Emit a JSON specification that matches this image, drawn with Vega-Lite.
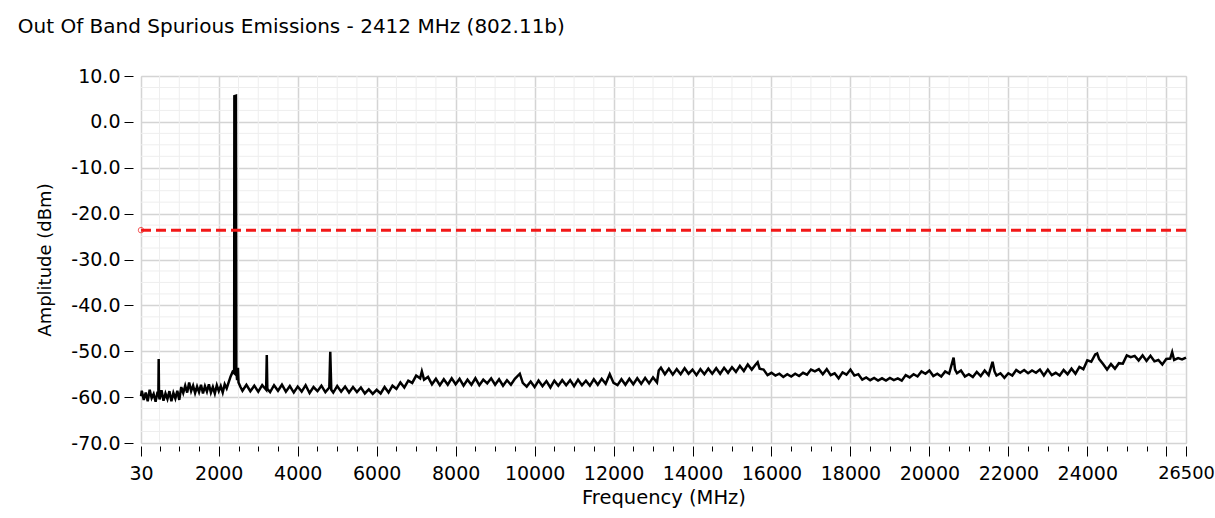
{
  "$schema": "https://vega.github.io/schema/vega-lite/v6.json",
  "width": 1045,
  "height": 367,
  "autosize": {"type": "none"},
  "padding": {"left": 141, "top": 76, "right": 29, "bottom": 75},
  "background": "white",
  "title": {"text": "Out Of Band Spurious Emissions - 2412 MHz (802.11b)", "anchor": "start", "dx": -19, "offset": 30, "font": "DejaVu Sans", "fontSize": 20, "fontWeight": "normal", "color": "#000000"},
  "config": {
    "view": {"stroke": "#d6d6d6", "strokeWidth": 1},
    "axis": {"labelFont": "DejaVu Sans", "labelFontSize": 19, "labelColor": "#000000", "titleFont": "DejaVu Sans", "titleFontSize": 18, "titleFontWeight": "normal", "titleColor": "#000000", "tickColor": "#000000", "domain": false}
  },
  "datasets": {
    "trace": [
      {"Frequency": 30, "Amplitude": -59.8}, {"Frequency": 50, "Amplitude": -58.6}, {"Frequency": 100, "Amplitude": -60.6}, {"Frequency": 150, "Amplitude": -59.0}, {"Frequency": 200, "Amplitude": -60.9}, {"Frequency": 250, "Amplitude": -58.4}, {"Frequency": 300, "Amplitude": -60.2}, {"Frequency": 350, "Amplitude": -59.3}, {"Frequency": 400, "Amplitude": -61.0}, {"Frequency": 450, "Amplitude": -58.8}, {"Frequency": 470, "Amplitude": -59.5}, {"Frequency": 478, "Amplitude": -51.7}, {"Frequency": 486, "Amplitude": -59.6}, {"Frequency": 500, "Amplitude": -60.5}, {"Frequency": 550, "Amplitude": -58.5}, {"Frequency": 600, "Amplitude": -60.8}, {"Frequency": 650, "Amplitude": -59.2}, {"Frequency": 700, "Amplitude": -60.4}, {"Frequency": 750, "Amplitude": -58.7}, {"Frequency": 800, "Amplitude": -60.9}, {"Frequency": 850, "Amplitude": -59.1}, {"Frequency": 900, "Amplitude": -60.3}, {"Frequency": 950, "Amplitude": -58.6}, {"Frequency": 1000, "Amplitude": -60.6},
      {"Frequency": 1050, "Amplitude": -57.8}, {"Frequency": 1100, "Amplitude": -59.1}, {"Frequency": 1150, "Amplitude": -57.5}, {"Frequency": 1200, "Amplitude": -59.0}, {"Frequency": 1250, "Amplitude": -56.8}, {"Frequency": 1300, "Amplitude": -58.7}, {"Frequency": 1350, "Amplitude": -57.5}, {"Frequency": 1400, "Amplitude": -59.1}, {"Frequency": 1450, "Amplitude": -57.7}, {"Frequency": 1500, "Amplitude": -58.9}, {"Frequency": 1550, "Amplitude": -57.3}, {"Frequency": 1600, "Amplitude": -59.2}, {"Frequency": 1650, "Amplitude": -57.6}, {"Frequency": 1700, "Amplitude": -58.8}, {"Frequency": 1750, "Amplitude": -57.2}, {"Frequency": 1800, "Amplitude": -59.0}, {"Frequency": 1850, "Amplitude": -57.8}, {"Frequency": 1900, "Amplitude": -59.2}, {"Frequency": 1950, "Amplitude": -57.4}, {"Frequency": 2000, "Amplitude": -58.7}, {"Frequency": 2050, "Amplitude": -57.6}, {"Frequency": 2100, "Amplitude": -59.0}, {"Frequency": 2150, "Amplitude": -57.2}, {"Frequency": 2200, "Amplitude": -58.1}, {"Frequency": 2250, "Amplitude": -56.8}, {"Frequency": 2300, "Amplitude": -55.5}, {"Frequency": 2350, "Amplitude": -54.5}, {"Frequency": 2390, "Amplitude": -54.8},
      {"Frequency": 2395, "Amplitude": 5.6}, {"Frequency": 2435, "Amplitude": 5.7}, {"Frequency": 2445, "Amplitude": -54.5}, {"Frequency": 2465, "Amplitude": -56.3}, {"Frequency": 2486, "Amplitude": -53.6}, {"Frequency": 2500, "Amplitude": -56.8}, {"Frequency": 2550, "Amplitude": -57.8},
      {"Frequency": 2600, "Amplitude": -58.6}, {"Frequency": 2700, "Amplitude": -57.3}, {"Frequency": 2800, "Amplitude": -58.7}, {"Frequency": 2900, "Amplitude": -57.5}, {"Frequency": 3000, "Amplitude": -58.8}, {"Frequency": 3100, "Amplitude": -57.4}, {"Frequency": 3200, "Amplitude": -58.4}, {"Frequency": 3216, "Amplitude": -50.8}, {"Frequency": 3230, "Amplitude": -58.2}, {"Frequency": 3300, "Amplitude": -58.9}, {"Frequency": 3400, "Amplitude": -57.4}, {"Frequency": 3500, "Amplitude": -58.6}, {"Frequency": 3600, "Amplitude": -57.3}, {"Frequency": 3700, "Amplitude": -58.8}, {"Frequency": 3800, "Amplitude": -57.6}, {"Frequency": 3900, "Amplitude": -59.0}, {"Frequency": 4000, "Amplitude": -57.7}, {"Frequency": 4100, "Amplitude": -58.8}, {"Frequency": 4200, "Amplitude": -57.4}, {"Frequency": 4300, "Amplitude": -59.1}, {"Frequency": 4400, "Amplitude": -57.8}, {"Frequency": 4500, "Amplitude": -58.7}, {"Frequency": 4600, "Amplitude": -57.5}, {"Frequency": 4700, "Amplitude": -58.9}, {"Frequency": 4800, "Amplitude": -57.9}, {"Frequency": 4824, "Amplitude": -50.1}, {"Frequency": 4850, "Amplitude": -58.4}, {"Frequency": 4900, "Amplitude": -59.0}, {"Frequency": 5000, "Amplitude": -57.6}, {"Frequency": 5100, "Amplitude": -58.8}, {"Frequency": 5200, "Amplitude": -57.7}, {"Frequency": 5300, "Amplitude": -59.0}, {"Frequency": 5400, "Amplitude": -57.8}, {"Frequency": 5500, "Amplitude": -58.9}, {"Frequency": 5600, "Amplitude": -57.9}, {"Frequency": 5700, "Amplitude": -59.2}, {"Frequency": 5800, "Amplitude": -58.3}, {"Frequency": 5900, "Amplitude": -59.3}, {"Frequency": 6000, "Amplitude": -58.4},
      {"Frequency": 6100, "Amplitude": -59.2}, {"Frequency": 6200, "Amplitude": -57.8}, {"Frequency": 6300, "Amplitude": -59.0}, {"Frequency": 6400, "Amplitude": -57.5}, {"Frequency": 6500, "Amplitude": -58.2}, {"Frequency": 6600, "Amplitude": -56.8}, {"Frequency": 6700, "Amplitude": -57.9}, {"Frequency": 6800, "Amplitude": -56.4}, {"Frequency": 6900, "Amplitude": -56.9}, {"Frequency": 7000, "Amplitude": -55.3}, {"Frequency": 7100, "Amplitude": -55.9}, {"Frequency": 7144, "Amplitude": -54.4}, {"Frequency": 7200, "Amplitude": -56.2}, {"Frequency": 7300, "Amplitude": -55.6}, {"Frequency": 7400, "Amplitude": -57.2}, {"Frequency": 7500, "Amplitude": -56.0}, {"Frequency": 7600, "Amplitude": -57.4}, {"Frequency": 7700, "Amplitude": -56.1}, {"Frequency": 7800, "Amplitude": -57.3}, {"Frequency": 7900, "Amplitude": -55.9}, {"Frequency": 8000, "Amplitude": -57.2}, {"Frequency": 8100, "Amplitude": -56.0}, {"Frequency": 8200, "Amplitude": -57.5}, {"Frequency": 8300, "Amplitude": -56.2}, {"Frequency": 8400, "Amplitude": -57.3}, {"Frequency": 8500, "Amplitude": -55.9}, {"Frequency": 8600, "Amplitude": -57.4}, {"Frequency": 8700, "Amplitude": -56.2}, {"Frequency": 8800, "Amplitude": -57.0}, {"Frequency": 8900, "Amplitude": -55.9}, {"Frequency": 9000, "Amplitude": -57.3}, {"Frequency": 9100, "Amplitude": -56.1}, {"Frequency": 9200, "Amplitude": -57.5}, {"Frequency": 9300, "Amplitude": -56.3}, {"Frequency": 9400, "Amplitude": -57.3}, {"Frequency": 9500, "Amplitude": -56.0}, {"Frequency": 9625, "Amplitude": -54.9}, {"Frequency": 9700, "Amplitude": -56.9}, {"Frequency": 9800, "Amplitude": -57.7}, {"Frequency": 9900, "Amplitude": -56.6}, {"Frequency": 10000, "Amplitude": -57.8}, {"Frequency": 10100, "Amplitude": -56.4}, {"Frequency": 10200, "Amplitude": -57.6}, {"Frequency": 10300, "Amplitude": -56.5}, {"Frequency": 10400, "Amplitude": -57.9}, {"Frequency": 10500, "Amplitude": -56.4}, {"Frequency": 10600, "Amplitude": -57.5}, {"Frequency": 10700, "Amplitude": -56.3}, {"Frequency": 10800, "Amplitude": -57.4}, {"Frequency": 10900, "Amplitude": -56.3}, {"Frequency": 11000, "Amplitude": -57.6}, {"Frequency": 11100, "Amplitude": -56.2}, {"Frequency": 11200, "Amplitude": -57.4}, {"Frequency": 11300, "Amplitude": -56.4}, {"Frequency": 11400, "Amplitude": -57.5}, {"Frequency": 11500, "Amplitude": -56.1}, {"Frequency": 11600, "Amplitude": -57.3}, {"Frequency": 11700, "Amplitude": -56.0}, {"Frequency": 11800, "Amplitude": -57.1}, {"Frequency": 11903, "Amplitude": -55.0}, {"Frequency": 12000, "Amplitude": -56.9}, {"Frequency": 12100, "Amplitude": -57.4}, {"Frequency": 12200, "Amplitude": -56.1}, {"Frequency": 12300, "Amplitude": -57.3}, {"Frequency": 12400, "Amplitude": -56.0}, {"Frequency": 12500, "Amplitude": -57.2}, {"Frequency": 12600, "Amplitude": -55.9}, {"Frequency": 12700, "Amplitude": -57.1}, {"Frequency": 12800, "Amplitude": -55.8}, {"Frequency": 12900, "Amplitude": -57.0}, {"Frequency": 13000, "Amplitude": -55.7}, {"Frequency": 13100, "Amplitude": -56.8}, {"Frequency": 13144, "Amplitude": -54.2},
      {"Frequency": 13200, "Amplitude": -53.6}, {"Frequency": 13300, "Amplitude": -55.0}, {"Frequency": 13400, "Amplitude": -53.8}, {"Frequency": 13500, "Amplitude": -55.1}, {"Frequency": 13600, "Amplitude": -53.9}, {"Frequency": 13700, "Amplitude": -55.0}, {"Frequency": 13800, "Amplitude": -53.7}, {"Frequency": 13900, "Amplitude": -54.9}, {"Frequency": 14000, "Amplitude": -54.0}, {"Frequency": 14100, "Amplitude": -55.2}, {"Frequency": 14200, "Amplitude": -53.9}, {"Frequency": 14300, "Amplitude": -55.0}, {"Frequency": 14400, "Amplitude": -53.8}, {"Frequency": 14500, "Amplitude": -54.9}, {"Frequency": 14600, "Amplitude": -53.7}, {"Frequency": 14700, "Amplitude": -54.9}, {"Frequency": 14800, "Amplitude": -53.6}, {"Frequency": 14900, "Amplitude": -54.7}, {"Frequency": 15000, "Amplitude": -53.5}, {"Frequency": 15100, "Amplitude": -54.5}, {"Frequency": 15200, "Amplitude": -53.2}, {"Frequency": 15300, "Amplitude": -54.3}, {"Frequency": 15400, "Amplitude": -52.9}, {"Frequency": 15500, "Amplitude": -54.0}, {"Frequency": 15600, "Amplitude": -52.9}, {"Frequency": 15650, "Amplitude": -52.4}, {"Frequency": 15700, "Amplitude": -53.8}, {"Frequency": 15800, "Amplitude": -54.0}, {"Frequency": 15900, "Amplitude": -55.2}, {"Frequency": 16000, "Amplitude": -54.7}, {"Frequency": 16100, "Amplitude": -55.3}, {"Frequency": 16200, "Amplitude": -54.9}, {"Frequency": 16300, "Amplitude": -55.6}, {"Frequency": 16400, "Amplitude": -55.0}, {"Frequency": 16500, "Amplitude": -55.5}, {"Frequency": 16600, "Amplitude": -54.9}, {"Frequency": 16700, "Amplitude": -55.4}, {"Frequency": 16800, "Amplitude": -54.7}, {"Frequency": 16900, "Amplitude": -55.1}, {"Frequency": 17000, "Amplitude": -54.0}, {"Frequency": 17100, "Amplitude": -54.4}, {"Frequency": 17200, "Amplitude": -53.9}, {"Frequency": 17300, "Amplitude": -55.0}, {"Frequency": 17400, "Amplitude": -53.9}, {"Frequency": 17500, "Amplitude": -55.2}, {"Frequency": 17600, "Amplitude": -54.8}, {"Frequency": 17700, "Amplitude": -55.9}, {"Frequency": 17800, "Amplitude": -54.6}, {"Frequency": 17900, "Amplitude": -55.1}, {"Frequency": 18000, "Amplitude": -54.0}, {"Frequency": 18100, "Amplitude": -55.3}, {"Frequency": 18200, "Amplitude": -55.0}, {"Frequency": 18300, "Amplitude": -56.2}, {"Frequency": 18400, "Amplitude": -55.7}, {"Frequency": 18500, "Amplitude": -56.3}, {"Frequency": 18600, "Amplitude": -55.8}, {"Frequency": 18700, "Amplitude": -56.4}, {"Frequency": 18800, "Amplitude": -55.9}, {"Frequency": 18900, "Amplitude": -56.4}, {"Frequency": 19000, "Amplitude": -55.8}, {"Frequency": 19100, "Amplitude": -56.3}, {"Frequency": 19200, "Amplitude": -55.9}, {"Frequency": 19300, "Amplitude": -56.4}, {"Frequency": 19400, "Amplitude": -55.2}, {"Frequency": 19500, "Amplitude": -55.7}, {"Frequency": 19600, "Amplitude": -55.0}, {"Frequency": 19700, "Amplitude": -55.5}, {"Frequency": 19800, "Amplitude": -54.4}, {"Frequency": 19900, "Amplitude": -54.9}, {"Frequency": 20000, "Amplitude": -54.2},
      {"Frequency": 20100, "Amplitude": -55.4}, {"Frequency": 20200, "Amplitude": -54.9}, {"Frequency": 20300, "Amplitude": -55.5}, {"Frequency": 20400, "Amplitude": -54.4}, {"Frequency": 20500, "Amplitude": -54.9}, {"Frequency": 20613, "Amplitude": -51.4}, {"Frequency": 20650, "Amplitude": -54.0}, {"Frequency": 20700, "Amplitude": -54.8}, {"Frequency": 20800, "Amplitude": -54.2}, {"Frequency": 20900, "Amplitude": -55.5}, {"Frequency": 21000, "Amplitude": -55.0}, {"Frequency": 21100, "Amplitude": -55.6}, {"Frequency": 21200, "Amplitude": -54.5}, {"Frequency": 21300, "Amplitude": -55.4}, {"Frequency": 21400, "Amplitude": -54.2}, {"Frequency": 21500, "Amplitude": -55.2}, {"Frequency": 21600, "Amplitude": -52.3}, {"Frequency": 21650, "Amplitude": -54.4}, {"Frequency": 21700, "Amplitude": -55.3}, {"Frequency": 21800, "Amplitude": -54.8}, {"Frequency": 21900, "Amplitude": -55.8}, {"Frequency": 22000, "Amplitude": -54.8}, {"Frequency": 22100, "Amplitude": -55.3}, {"Frequency": 22200, "Amplitude": -54.1}, {"Frequency": 22300, "Amplitude": -54.7}, {"Frequency": 22400, "Amplitude": -54.1}, {"Frequency": 22500, "Amplitude": -54.8}, {"Frequency": 22600, "Amplitude": -54.2}, {"Frequency": 22700, "Amplitude": -54.7}, {"Frequency": 22800, "Amplitude": -54.0}, {"Frequency": 22900, "Amplitude": -55.3}, {"Frequency": 23000, "Amplitude": -54.0}, {"Frequency": 23100, "Amplitude": -55.2}, {"Frequency": 23200, "Amplitude": -54.7}, {"Frequency": 23300, "Amplitude": -55.3}, {"Frequency": 23400, "Amplitude": -54.1}, {"Frequency": 23500, "Amplitude": -55.0}, {"Frequency": 23600, "Amplitude": -53.8}, {"Frequency": 23700, "Amplitude": -54.9}, {"Frequency": 23800, "Amplitude": -53.4}, {"Frequency": 23900, "Amplitude": -53.9}, {"Frequency": 24000, "Amplitude": -52.0}, {"Frequency": 24100, "Amplitude": -52.3}, {"Frequency": 24200, "Amplitude": -50.7}, {"Frequency": 24250, "Amplitude": -50.5}, {"Frequency": 24300, "Amplitude": -51.7}, {"Frequency": 24400, "Amplitude": -52.8}, {"Frequency": 24500, "Amplitude": -54.0}, {"Frequency": 24600, "Amplitude": -52.8}, {"Frequency": 24700, "Amplitude": -53.8}, {"Frequency": 24800, "Amplitude": -52.6}, {"Frequency": 24900, "Amplitude": -52.7}, {"Frequency": 25000, "Amplitude": -50.9}, {"Frequency": 25100, "Amplitude": -51.3}, {"Frequency": 25200, "Amplitude": -51.0}, {"Frequency": 25300, "Amplitude": -52.0}, {"Frequency": 25400, "Amplitude": -50.9}, {"Frequency": 25500, "Amplitude": -52.1}, {"Frequency": 25600, "Amplitude": -51.0}, {"Frequency": 25700, "Amplitude": -52.2}, {"Frequency": 25800, "Amplitude": -51.9}, {"Frequency": 25900, "Amplitude": -52.9}, {"Frequency": 26000, "Amplitude": -51.7}, {"Frequency": 26100, "Amplitude": -51.6}, {"Frequency": 26150, "Amplitude": -50.2}, {"Frequency": 26200, "Amplitude": -51.9}, {"Frequency": 26300, "Amplitude": -51.5}, {"Frequency": 26400, "Amplitude": -51.8}, {"Frequency": 26500, "Amplitude": -51.4}
    ],
    "limit": [{"Frequency": 30, "Amplitude": -23.6}, {"Frequency": 26500, "Amplitude": -23.6}],
    "minorX": [
      {"Frequency": 500}, {"Frequency": 1000}, {"Frequency": 1500}, {"Frequency": 2500}, {"Frequency": 3000}, {"Frequency": 3500}, {"Frequency": 4500}, {"Frequency": 5000}, {"Frequency": 5500}, {"Frequency": 6500}, {"Frequency": 7000}, {"Frequency": 7500}, {"Frequency": 8500}, {"Frequency": 9000}, {"Frequency": 9500}, {"Frequency": 10500}, {"Frequency": 11000}, {"Frequency": 11500}, {"Frequency": 12500}, {"Frequency": 13000}, {"Frequency": 13500}, {"Frequency": 14500}, {"Frequency": 15000}, {"Frequency": 15500}, {"Frequency": 16500}, {"Frequency": 17000}, {"Frequency": 17500}, {"Frequency": 18500}, {"Frequency": 19000}, {"Frequency": 19500}, {"Frequency": 20500}, {"Frequency": 21000}, {"Frequency": 21500}, {"Frequency": 22500}, {"Frequency": 23000}, {"Frequency": 23500}, {"Frequency": 24500}, {"Frequency": 25000}, {"Frequency": 25500}
    ],
    "minorY": [
      {"Amplitude": 7.5}, {"Amplitude": 5}, {"Amplitude": 2.5}, {"Amplitude": -2.5}, {"Amplitude": -5}, {"Amplitude": -7.5}, {"Amplitude": -12.5}, {"Amplitude": -15}, {"Amplitude": -17.5}, {"Amplitude": -22.5}, {"Amplitude": -25}, {"Amplitude": -27.5}, {"Amplitude": -32.5}, {"Amplitude": -35}, {"Amplitude": -37.5}, {"Amplitude": -42.5}, {"Amplitude": -45}, {"Amplitude": -47.5}, {"Amplitude": -52.5}, {"Amplitude": -55}, {"Amplitude": -57.5}, {"Amplitude": -62.5}, {"Amplitude": -65}, {"Amplitude": -67.5}
    ]
  },
  "resolve": {"axis": {"x": "independent"}},
  "layer": [
    {
      "data": {"name": "minorY"},
      "mark": {"type": "rule", "color": "#eeeeee", "strokeWidth": 1},
      "encoding": {"y": {"field": "Amplitude", "type": "quantitative", "scale": {"domain": [-70, 10], "nice": false, "zero": false}}}
    },
    {
      "data": {"name": "minorX"},
      "mark": {"type": "rule", "color": "#eeeeee", "strokeWidth": 1},
      "encoding": {
        "x": {"field": "Frequency", "type": "quantitative", "scale": {"domain": [30, 26500], "nice": false, "zero": false},
          "axis": {"orient": "bottom", "values": [500, 1000, 1500, 2500, 3000, 3500, 4500, 5000, 5500, 6500, 7000, 7500, 8500, 9000, 9500, 10500, 11000, 11500, 12500, 13000, 13500, 14500, 15000, 15500, 16500, 17000, 17500, 18500, 19000, 19500, 20500, 21000, 21500, 22500, 23000, 23500, 24500, 25000, 25500], "labels": false, "grid": false, "ticks": true, "tickSize": 5, "offset": 3, "title": null, "domain": false}}
      }
    },
    {
      "data": {"name": "trace"},
      "mark": {"type": "line", "color": "#000000", "strokeWidth": 2.5},
      "encoding": {
        "x": {"field": "Frequency", "type": "quantitative", "scale": {"domain": [30, 26500], "nice": false, "zero": false},
          "axis": {"orient": "bottom", "title": "Frequency (MHz)", "titleFontSize": 19.5, "values": [30, 2000, 4000, 6000, 8000, 10000, 12000, 14000, 16000, 18000, 20000, 22000, 24000, 26000, 26500], "labelExpr": "datum.value == 26000 ? '' : datum.label", "labelFontSize": {"condition": {"test": "datum.value == 26500", "value": 17.8}, "value": 19}, "format": "d", "labelOverlap": false, "labelBound": false, "labelFlush": false, "grid": true, "gridColor": "#d4d4d4", "gridWidth": 1.5, "tickSize": 10, "offset": 3, "labelPadding": 8, "titlePadding": 5}},
        "y": {"field": "Amplitude", "type": "quantitative", "scale": {"domain": [-70, 10], "nice": false, "zero": false},
          "axis": {"title": "Amplitude (dBm)", "values": [-70, -60, -50, -40, -30, -20, -10, 0, 10], "labelExpr": "replace(format(datum.value, '.1f'), '\u2212', '-')", "grid": true, "gridColor": "#d4d4d4", "gridWidth": 1.5, "tickSize": 9, "offset": 8, "labelPadding": 4, "titlePadding": 16}}
      }
    },
    {
      "data": {"name": "limit"},
      "mark": {"type": "line", "color": "#f21818", "strokeWidth": 3, "strokeDash": [10, 5]},
      "encoding": {
        "x": {"field": "Frequency", "type": "quantitative", "axis": null},
        "y": {"field": "Amplitude", "type": "quantitative"}
      }
    },
    {
      "data": {"name": "limit"},
      "transform": [{"filter": "datum.Frequency == 30"}],
      "mark": {"type": "point", "shape": "circle", "filled": false, "color": "#f21818", "size": 30, "strokeWidth": 1},
      "encoding": {
        "x": {"field": "Frequency", "type": "quantitative", "axis": null},
        "y": {"field": "Amplitude", "type": "quantitative"}
      }
    },
    {
      "mark": {"type": "rule", "color": "#9a9a9a", "strokeWidth": 2},
      "encoding": {"x": {"datum": 30, "type": "quantitative", "axis": null}}
    },
    {
      "mark": {"type": "rule", "color": "#9a9a9a", "strokeWidth": 2},
      "encoding": {"y": {"datum": 10, "type": "quantitative"}}
    }
  ]
}
